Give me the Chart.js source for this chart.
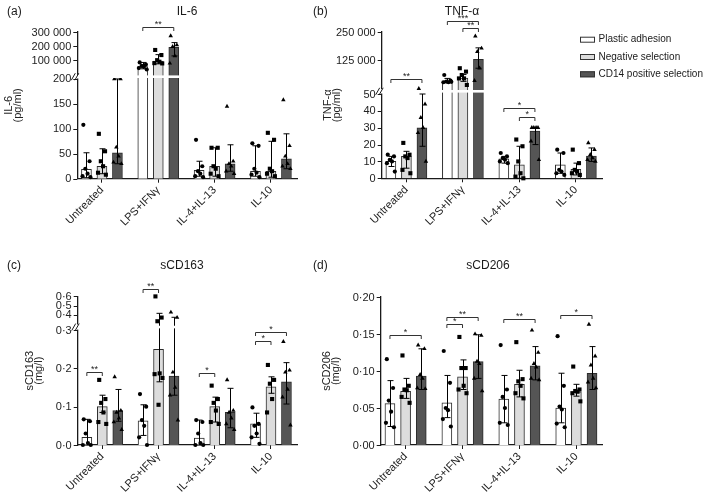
<!DOCTYPE html>
<html>
<head>
<meta charset="utf-8">
<script src="https://cdn.jsdelivr.net/npm/chart.js@4.4.1/dist/chart.umd.min.js"></script>
<style>
  body { margin: 0; background: #fff; }
  #wrap { position: relative; width: 709px; height: 495px; }
  canvas { position: absolute; }
  .ytick { position: absolute; font: 11px 'Liberation Sans', Arial, sans-serif; color: #222; line-height: 12px; text-align: right; width: 50px; }
</style>
</head>
<body>
<div id="wrap">
  <canvas id="chartA" width="315" height="248" style="left:0px;top:0px"></canvas>
  <canvas id="chartB" width="404" height="248" style="left:305px;top:0px"></canvas>
  <canvas id="chartC" width="315" height="247" style="left:0px;top:248px"></canvas>
  <canvas id="chartD" width="404" height="247" style="left:305px;top:248px"></canvas>
</div>
<script>
// categories
const groups = ['Untreated', 'LPS+IFNγ', 'IL-4+IL-13', 'IL-10'];
const methods = ['Plastic adhesion', 'Negative selection', 'CD14 positive selection'];

// rows = methods (plastic, negative, CD14), columns = groups

// (a) IL-6, pg/ml
const il6Mean = [[19, 55000, 17, 15], [25, 95000, 25, 15], [52, 192000, 30, 40]];
const il6Lo = [[2, 40000, 5, 5], [10, 75000, 5, 3], [30, 131000, 15, 20]];
const il6Hi = [[52, 85000, 35, 66], [60, 140000, 62, 75], [200, 225000, 68, 90]];
const il6Points = [
  [[108, 35, 20, 10, 5, 3], [85000, 70000, 60000, 55000, 45000, 35000], [78, 25, 15, 10, 5, 3], [71, 66, 20, 12, 8, 3]],
  [[90, 55, 35, 25, 12, 8], [173000, 137000, 101000, 90000, 80000, 78000], [62, 62, 25, 20, 10, 5], [92, 78, 20, 15, 10, 5]],
  [[200, 200, 63, 45, 33, 30], [272000, 208000, 197000, 130000, 79000], [145, 35, 30, 25, 15, 10], [158, 66, 45, 30, 25, 20]]
];
const il6Ticks = [0, 50, 100, 150, 200, 100000, 200000, 300000];
const il6TickLabels = ['0', '50', '100', '150', '200', '100 000', '200 000', '300 000'];
const il6Sig = [[1, 0, 2, 338000, '**']];

// (b) TNF-α, pg/ml
const tnfMean = [[10, 33500, 11.5, 8], [13, 46800, 8, 5.3], [30, 129000, 28, 13.2]];
const tnfLo = [[7, 28000, 9, 3], [6, 32000, 0, 2], [19, 90000, 20, 10]];
const tnfHi = [[13, 45000, 13, 15], [16, 62000, 19, 9], [50, 180000, 30, 18]];
const tnfPoints = [
  [[14, 13, 11, 10, 9, 4], [60000, 35000, 31000, 28000, 28000, 30000], [15, 13, 12, 11, 10, 9], [17, 15, 5, 4, 3, 2]],
  [[21, 14, 13, 12, 5, 3], [90000, 75000, 60000, 45000, 45000, 16000], [23, 19, 10, 3, 1, 0], [17, 9, 5, 4, 3, 2]],
  [[52, 44, 36, 30, 27, 10], [232000, 178000, 163000, 90000, 35000], [30, 30, 30, 30, 22, 11], [21, 17, 14, 12, 11, 10]]
];
const tnfTicks = [0, 10, 20, 30, 40, 50, 125000, 250000];
const tnfTickLabels = ['0', '10', '20', '30', '40', '50', '125 000', '250 000'];
const tnfSig = [[0, 0, 2, 42000, '**'], [1, 0, 2, 300000, '***'], [1, 1, 2, 266000, '**'], [2, 0, 2, 41.9, '*'], [2, 1, 2, 36.5, '*']];

// (c) sCD163, mg/l
const cd163Mean = [[0.02, 0.063, 0.018, 0.055], [0.1, 0.25, 0.1, 0.152], [0.09, 0.18, 0.085, 0.165]];
const cd163Lo = [[0, 0.025, 0, 0.02], [0.085, 0.165, 0.06, 0.135], [0.062, 0.13, 0.045, 0.107]];
const cd163Hi = [[0.067, 0.105, 0.065, 0.083], [0.13, 0.416, 0.125, 0.178], [0.145, 0.373, 0.148, 0.215]];
const cd163Points = [
  [[0.067, 0.062, 0.03, 0.005, 0, 0], [0.133, 0.1, 0.065, 0.05, 0.02, 0], [0.065, 0.06, 0.03, 0.005, 0, 0], [0.098, 0.055, 0.05, 0.03, 0.02, 0.003]],
  [[0.17, 0.12, 0.11, 0.085, 0.06, 0.055], [0.6, 0.37, 0.33, 0.187, 0.185, 0.175, 0.105], [0.155, 0.12, 0.11, 0.09, 0.06, 0.055], [0.209, 0.17, 0.16, 0.12, 0.085]],
  [[0.178, 0.09, 0.085, 0.07, 0.06, 0.04], [0.427, 0.37, 0.19, 0.15, 0.13, 0.065], [0.17, 0.09, 0.085, 0.07, 0.055, 0.04], [0.27, 0.195, 0.19, 0.145, 0.125, 0.052]]
];
const cd163Ticks = [0, 0.1, 0.2, 0.3, 0.4, 0.5, 0.6];
const cd163TickLabels = ['0·0', '0·1', '0·2', '0·3', '0·4', '0·5', '0·6'];
const cd163Sig = [[0, 0, 1, 0.191, '**'], [1, 0, 1, 0.68, '**'], [2, 0, 1, 0.187, '*'], [3, 0, 2, 0.296, '*'], [3, 0, 1, 0.272, '*']];

// (d) sCD206, mg/l
const cd206Mean = [[0.056, 0.057, 0.062, 0.05], [0.0725, 0.092, 0.082, 0.072], [0.093, 0.1126, 0.107, 0.097]];
const cd206Lo = [[0.025, 0.037, 0.03, 0.03], [0.063, 0.075, 0.065, 0.066], [0.075, 0.09, 0.088, 0.075]];
const cd206Hi = [[0.087, 0.094, 0.094, 0.097], [0.09, 0.115, 0.101, 0.082], [0.13, 0.149, 0.133, 0.133]];
const cd206Points = [
  [[0.116, 0.077, 0.06, 0.045, 0.03, 0.024], [0.127, 0.084, 0.05, 0.047, 0.035, 0.025], [0.135, 0.075, 0.065, 0.05, 0.03, 0.027], [0.147, 0.08, 0.052, 0.048, 0.029, 0.024]],
  [[0.121, 0.08, 0.075, 0.074, 0.065, 0.057], [0.146, 0.104, 0.104, 0.08, 0.075, 0.07], [0.139, 0.089, 0.086, 0.08, 0.07, 0.063], [0.106, 0.075, 0.073, 0.072, 0.07, 0.059]],
  [[0.135, 0.13, 0.095, 0.09, 0.077, 0.076], [0.15, 0.148, 0.113, 0.11, 0.09, 0.073], [0.155, 0.125, 0.11, 0.105, 0.09, 0.088], [0.163, 0.12, 0.108, 0.09, 0.085, 0.077]]
];
const cd206Ticks = [0, 0.05, 0.1, 0.15, 0.2];
const cd206TickLabels = ['0·00', '0·05', '0·10', '0·15', '0·20'];
const cd206Sig = [[0, 0, 2, 0.149, '*'], [1, 0, 1, 0.1635, '*'], [1, 0, 2, 0.173, '**'], [2, 0, 2, 0.17, '**'], [3, 0, 2, 0.176, '*']];

// ---- styling / layout helpers ----
const FONT = "'Liberation Sans', Arial, sans-serif";
const INK = '#1a1a1a';
const fills = ['#ffffff', '#dcdcdc', '#555555'];
const shapes = ['circle', 'rect', 'triangle'];
const radii = [2.1, 2.9, 2.6];
const jitter = [-0.22, 0.22, -0.08, 0.08, -0.28, 0.28, 0];
const barPos = (g, m) => g * 4 + (m - 1) * 1.1;

Chart.defaults.font.family = FONT;
Chart.defaults.color = '#222';

// piecewise map for a broken y axis (lower part linear, upper part linear)
function brokenMap(lowMax, lowH, upBase, upK) {
  return v => v <= lowMax ? v * lowH / lowMax : upBase + v * upK;
}

function makePanel(id, p) {
  const f = p.map;
  const datasets = [];
  methods.forEach((name, m) => {
    datasets.push({
      type: 'bar', label: name, order: 2,
      data: groups.map((g, gi) => ({ x: barPos(gi, m), y: f(p.mean[m][gi]) })),
      errLo: p.lo[m].map(f), errHi: p.hi[m].map(f),
      backgroundColor: fills[m], borderColor: '#2b2b2b', borderWidth: 1,
      borderSkipped: 'bottom', barThickness: 10, grouped: false
    });
  });
  methods.forEach((name, m) => {
    const pts = [];
    p.points[m].forEach((vals, gi) => {
      vals.forEach((v, k) => pts.push({ x: barPos(gi, m) + jitter[k], y: f(v) }));
    });
    datasets.push({
      type: 'scatter', label: name + ' (donors)', order: 1, data: pts, clip: false,
      pointStyle: shapes[m], pointRadius: radii[m], pointHoverRadius: radii[m],
      backgroundColor: '#000', borderColor: '#000', borderWidth: 0
    });
  });

  // error bars drawn right after each bar dataset
  const errorBars = {
    id: 'errorBars',
    afterDatasetDraw(chart, args) {
      const ds = chart.data.datasets[args.index];
      if (!ds.errLo) return;
      const { ctx, scales: { y } } = chart;
      ctx.save();
      ctx.strokeStyle = '#000';
      ctx.lineWidth = 1;
      args.meta.data.forEach((bar, i) => {
        const x = Math.round(bar.x) + 0.5;
        const yHi = y.getPixelForValue(ds.errHi[i]);
        const yLo = y.getPixelForValue(ds.errLo[i]);
        ctx.beginPath();
        ctx.moveTo(x, yLo); ctx.lineTo(x, yHi);
        ctx.moveTo(x - 3, yHi); ctx.lineTo(x + 3, yHi);
        ctx.moveTo(x - 3, yLo); ctx.lineTo(x + 3, yLo);
        ctx.stroke();
      });
      ctx.restore();
    }
  };

  // white gap + "//" marks where the axis is broken
  const axisBreak = {
    id: 'axisBreak',
    afterDatasetsDraw(chart) {
      if (!p.brk) return;
      const { ctx, chartArea, scales: { y } } = chart;
      const yLow = y.getPixelForValue(p.brk.low);
      const yUp = y.getPixelForValue(p.brk.up);
      const mid = (yLow + yUp) / 2;
      const ax = chartArea.left;
      ctx.save();
      ctx.fillStyle = '#fff';
      ctx.fillRect(ax + 1, mid - 1.3, chartArea.right - ax, 2.6);
      ctx.fillRect(ax - 2, yUp + 0.5, 4, yLow - yUp - 1);
      ctx.strokeStyle = INK;
      ctx.lineWidth = 1;
      [-3.5, 0].forEach(d => {
        ctx.beginPath();
        ctx.moveTo(ax - 2.5 + d, mid + 3.5);
        ctx.lineTo(ax + 1.5 + d, mid - 3.5);
        ctx.stroke();
      });
      ctx.restore();
    }
  };

  // y tick marks on the canvas; tick labels as positioned text next to it
  const yTicks = {
    id: 'yTicks',
    afterDraw(chart) {
      const { ctx, chartArea, scales: { y } } = chart;
      const ax = chartArea.left;
      ctx.save();
      ctx.strokeStyle = INK;
      ctx.lineWidth = 1;
      p.ticks.forEach(v => {
        const py = Math.round(y.getPixelForValue(f(v))) + 0.5;
        ctx.beginPath();
        ctx.moveTo(ax - 4, py); ctx.lineTo(ax, py);
        ctx.stroke();
      });
      ctx.restore();
    }
  };

  // significance brackets, panel letter and title, legend
  const annotations = {
    id: 'annotations',
    afterDraw(chart) {
      const { ctx, scales: { x, y } } = chart;
      ctx.save();
      ctx.strokeStyle = '#333';
      ctx.fillStyle = '#222';
      ctx.lineWidth = 1;
      ctx.font = `9px ${FONT}`;
      ctx.textAlign = 'center';
      ctx.textBaseline = 'bottom';
      p.sig.forEach(([g, a, b, v, label]) => {
        const x1 = x.getPixelForValue(barPos(g, a));
        const x2 = x.getPixelForValue(barPos(g, b));
        const yy = Math.round(y.getPixelForValue(f(v))) + 0.5;
        ctx.beginPath();
        ctx.moveTo(x1, yy + 3.5); ctx.lineTo(x1, yy); ctx.lineTo(x2, yy); ctx.lineTo(x2, yy + 3.5);
        ctx.stroke();
        ctx.fillText(label, (x1 + x2) / 2, yy + 2);
      });

      ctx.fillStyle = INK;
      ctx.font = `12px ${FONT}`;
      ctx.textBaseline = 'middle';
      ctx.textAlign = 'left';
      ctx.fillText(p.letter, p.letterX, p.textY);
      ctx.textAlign = 'center';
      ctx.fillText(p.title, p.titleX, p.textY);

      if (p.legend) {
        ctx.font = `10px ${FONT}`;
        ctx.textAlign = 'left';
        methods.forEach((name, m) => {
          const ly = p.legend.y + m * p.legend.step;
          ctx.fillStyle = fills[m];
          ctx.fillRect(p.legend.x, ly - 3, 15, 6);
          ctx.strokeStyle = '#333';
          ctx.strokeRect(p.legend.x + 0.5, ly - 2.5, 14, 5);
          ctx.fillStyle = INK;
          ctx.fillText(name, p.legend.x + 18.5, ly);
        });
      }
      ctx.restore();
    }
  };

  const tickFont = { family: FONT, size: 11 };
  const canvas = document.getElementById(id);
  const chart = new Chart(canvas, {
    type: 'bar',
    data: { datasets },
    options: {
      responsive: false,
      animation: false,
      devicePixelRatio: 1,
      layout: { padding: { top: p.top, right: p.right, bottom: 0, left: 0 } },
      plugins: { legend: { display: false }, tooltip: { enabled: false } },
      scales: {
        x: {
          type: 'linear', min: -1.75, max: 13.85, offset: false,
          afterBuildTicks: s => { s.ticks = groups.map((g, i) => ({ value: i * 4 })); },
          afterFit: s => { s.height = p.xH; },
          ticks: {
            callback: (v, i) => groups[i], minRotation: 45, maxRotation: 45,
            autoSkip: false, color: '#222', font: tickFont, padding: 1
          },
          grid: { offset: false, drawOnChartArea: false, drawTicks: true, tickLength: 4, color: INK },
          border: { color: INK, width: 1.3 }
        },
        y: {
          type: 'linear', min: 0, max: p.yMax,
          afterBuildTicks: s => { s.ticks = p.ticks.map(v => ({ value: f(v) })); },
          afterFit: s => { s.width = p.yW; },
          ticks: { display: false },
          grid: { display: false },
          border: { color: INK, width: 1.3 },
          title: {
            display: true, text: p.yTitle, color: '#222',
            font: { family: FONT, size: 11, lineHeight: 0.82 },
            padding: { top: p.titlePad, bottom: 0 }
          }
        }
      }
    },
    plugins: [errorBars, axisBreak, yTicks, annotations]
  });

  // tick labels placed from the chart's own y scale
  const wrap = document.getElementById('wrap');
  const left = parseFloat(canvas.style.left);
  const top = parseFloat(canvas.style.top);
  const ax = chart.chartArea.left;
  p.ticks.forEach((v, i) => {
    const el = document.createElement('div');
    el.className = 'ytick';
    el.textContent = p.tickLabels[i];
    el.style.left = (left + ax - 6 - 50) + 'px';
    el.style.top = (top + chart.scales.y.getPixelForValue(f(v)) - 6.5) + 'px';
    wrap.appendChild(el);
  });
  return chart;
}

const il6Map = brokenMap(200, 99.7, 104.2, 42.45 / 300000);
makePanel('chartA', {
  map: il6Map, mean: il6Mean, lo: il6Lo, hi: il6Hi, points: il6Points,
  ticks: il6Ticks, tickLabels: il6TickLabels, sig: il6Sig,
  yMax: il6Map(300000), brk: { low: il6Map(200), up: il6Map(200.0001) },
  yTitle: ['IL-6', '(pg/ml)'], titlePad: 4,
  letter: '(a)', letterX: 7, title: 'IL-6', titleX: 187, textY: 12,
  top: 32, right: 18, yW: 77.3, xH: 69.3
});

const tnfMap = brokenMap(50, 84.3, 89.7, 56.6 / 250000);
makePanel('chartB', {
  map: tnfMap, mean: tnfMean, lo: tnfLo, hi: tnfHi, points: tnfPoints,
  ticks: tnfTicks, tickLabels: tnfTickLabels, sig: tnfSig,
  yMax: tnfMap(250000), brk: { low: tnfMap(50), up: tnfMap(50.0001) },
  yTitle: ['TNF-α', '(pg/ml)'], titlePad: 18.5,
  letter: '(b)', letterX: 8, title: 'TNF-α', titleX: 157, textY: 12,
  legend: { x: 275, y: 39.7, step: 17.3 },
  top: 32, right: 107, yW: 76.7, xH: 69.7
});

const cd163Map = brokenMap(0.3, 114.9, 93.4, 92);
makePanel('chartC', {
  map: cd163Map, mean: cd163Mean, lo: cd163Lo, hi: cd163Hi, points: cd163Points,
  ticks: cd163Ticks, tickLabels: cd163TickLabels, sig: cd163Sig,
  yMax: cd163Map(0.6), brk: { low: cd163Map(0.3), up: cd163Map(0.30001) },
  yTitle: ['sCD163', '(mg/l)'], titlePad: 25.5,
  letter: '(c)', letterX: 7, title: 'sCD163', titleX: 182, textY: 18,
  top: 48.4, right: 18, yW: 77.7, xH: 50
});

const cd206Map = v => v * 740;
makePanel('chartD', {
  map: cd206Map, mean: cd206Mean, lo: cd206Lo, hi: cd206Hi, points: cd206Points,
  ticks: cd206Ticks, tickLabels: cd206TickLabels, sig: cd206Sig,
  yMax: cd206Map(0.2), brk: null,
  yTitle: ['sCD206', '(mg/l)'], titlePad: 17.5,
  letter: '(d)', letterX: 8, title: 'sCD206', titleX: 183, textY: 18,
  top: 49, right: 106.3, yW: 75.7, xH: 50
});
</script>
</body>
</html>
